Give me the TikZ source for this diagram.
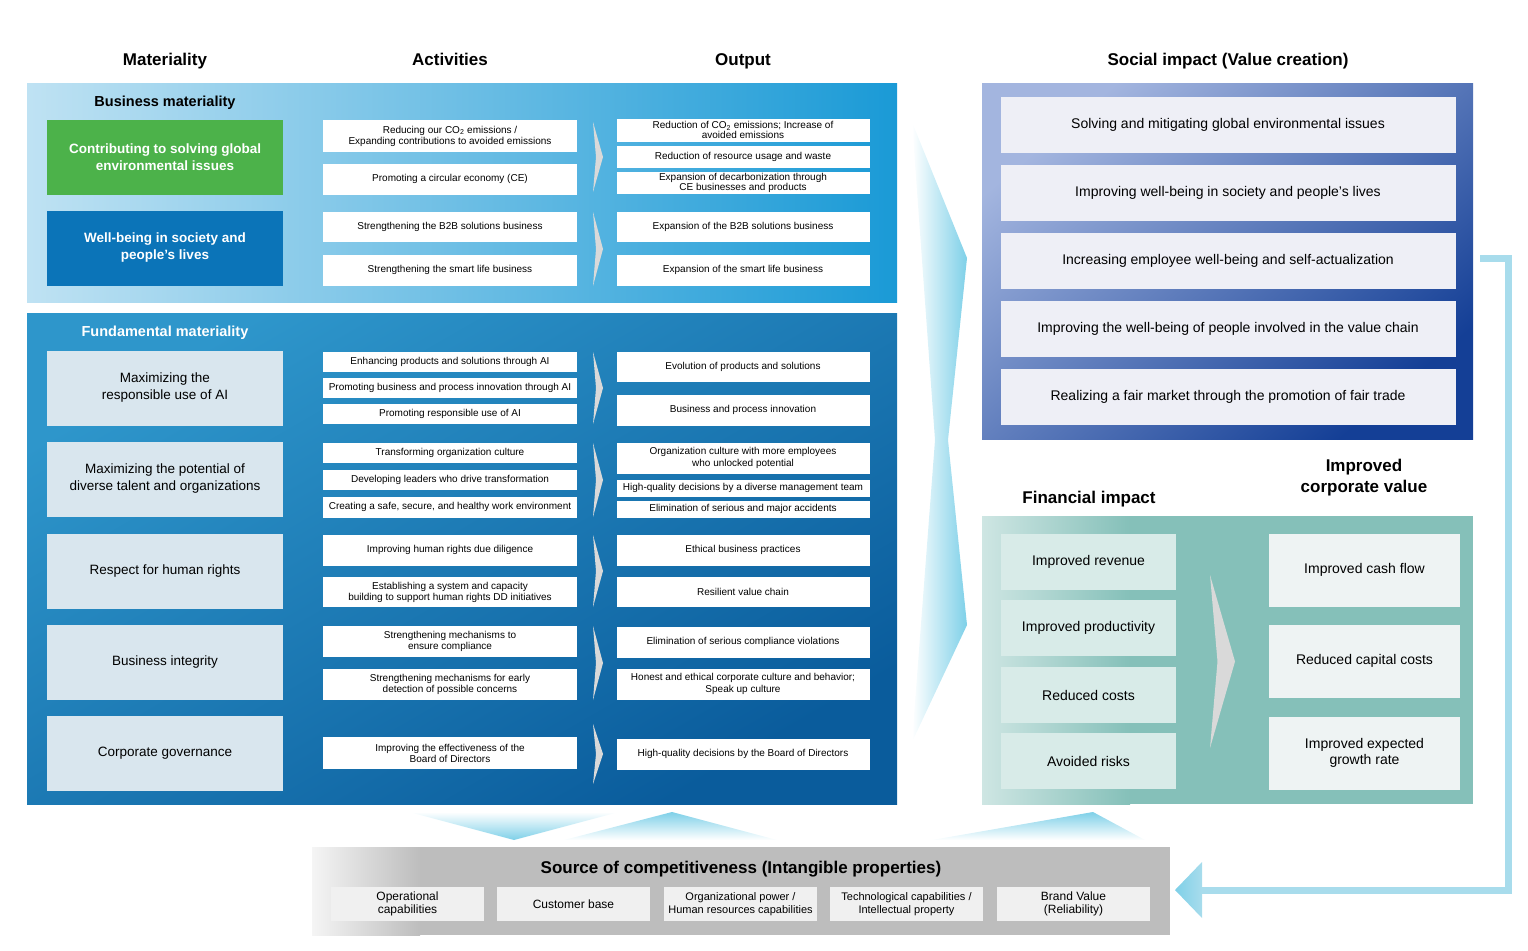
\documentclass[tikz,border=0pt]{standalone}
\usepackage{fontspec}
\setmainfont{Liberation Sans}
\usetikzlibrary{positioning}
\definecolor{bizL}{HTML}{BFE2F3}
\definecolor{bizR}{HTML}{1A9AD6}
\definecolor{funL}{HTML}{2E96CB}
\definecolor{funR}{HTML}{0A5C9C}
\definecolor{socL}{HTML}{A3B5DF}
\definecolor{socR}{HTML}{143F96}
\definecolor{finC}{HTML}{85C0B9}
\definecolor{finBox}{HTML}{D8EBE8}
\definecolor{cvBox}{HTML}{EEF3F3}
\definecolor{matGreen}{HTML}{4CB24A}
\definecolor{matBlue}{HTML}{0B74B8}
\definecolor{fundBox}{HTML}{D9E6EE}
\definecolor{socBox}{HTML}{EEEFF6}
\definecolor{loopC}{HTML}{A8DCEC}
\definecolor{fanC}{HTML}{7ED0E8}
\definecolor{srcC}{HTML}{BDBDBD}
\tikzset{every picture/.style={line width=0.75pt}}
\tikzset{
  head/.style={font=\fontsize{17}{19}\selectfont\bfseries, align=center, text height=12, text depth=4},
  subhead/.style={font=\fontsize{14.5}{16}\selectfont\bfseries},
  matbox/.style={minimum width=236, minimum height=75, inner sep=0pt, align=center, font=\fontsize{13.5}{17}\selectfont},
  actbox/.style={fill=white, minimum width=254, inner sep=0pt, align=center, font=\fontsize{10}{11}\selectfont},
  outbox/.style={fill=white, minimum width=253, inner sep=0pt, align=center, font=\fontsize{10}{10}\selectfont},
  socbox/.style={fill=socBox, minimum width=455, minimum height=56, inner sep=0pt, font=\fontsize{14}{16}\selectfont},
  finbox/.style={fill=finBox, minimum width=175, minimum height=56, inner sep=0pt, font=\fontsize{14}{16}\selectfont},
  cvbox/.style={fill=cvBox, minimum width=191, minimum height=73, inner sep=0pt, align=center, font=\fontsize{14}{16}\selectfont},
  srcbox/.style={fill=black!6, minimum width=153, minimum height=34, inner sep=0pt, align=center, font=\fontsize{12}{13}\selectfont},
  chev/.style={fill=black!15, draw=none},
}
\newcommand{\chevron}[4]{\fill[chev] (#1,#2) -- (#1+#3,#2/2+#4/2) -- (#1,#4) -- (#1+0.3*#3,#2/2+#4/2) -- cycle;}
\begin{document}
\begin{tikzpicture}[x=1pt,y=-1pt]
\useasboundingbox (0,0) rectangle (1528,950);

% column headings
\node[head] (hMat) at (165,62) {Materiality};
\node[head] (hAct) at (450,62) {Activities};
\node[head] (hOut) at (743,62) {Output};
\node[head] (hSoc) at (1228,62) {Social impact (Value creation)};

% panels
\shade[left color=bizL, right color=bizR] (27,83) rectangle (897,302);
\shade[top color=funL, bottom color=funR, shading angle=30] (27,313) rectangle (897,804);
\shade[top color=socL, bottom color=socR, shading angle=40] (982,83) rectangle (1473,439);
\shade[left color=white!60!finC, right color=finC] (982,516) rectangle (1130,804);
\fill[finC] (1130,516) rectangle (1473,804);
\shade[left color=black!4, right color=srcC] (312,847) rectangle (420,935);
\fill[srcC] (420,847) rectangle (1170,935);

\node[subhead] (hBiz) at (165,103) {Business materiality};
\node[subhead, text=white] (hFun) at (165,333) {Fundamental materiality};

% materiality
\node[matbox, fill=matGreen, text=white, font=\fontsize{13.5}{17}\selectfont\bfseries] (m1) at (165,157) {Contributing to solving global\\environmental issues};
\node[matbox, fill=matBlue, text=white, font=\fontsize{13.5}{17}\selectfont\bfseries] (m2) at (165,248) {Well-being in society and\\people's lives};
\node[matbox, fill=fundBox] (m3) at (165,388) {Maximizing the\\responsible use of AI};
\node[matbox, fill=fundBox] (m4) at (165,479) {Maximizing the potential of\\diverse talent and organizations};
\node[matbox, fill=fundBox] (m5) at (165,571) {Respect for human rights};
\node[matbox, fill=fundBox] (m6) at (165,662) {Business integrity};
\node[matbox, fill=fundBox] (m7) at (165,753) {Corporate governance};

% activities
\node[actbox, minimum height=32] (a1) at (450,136) {Reducing our CO\textsubscript{2} emissions /\\Expanding contributions to avoided emissions};
\node[actbox, minimum height=31] (a2) at (450,179) {Promoting a circular economy (CE)};
\node[actbox, minimum height=30] (a3) at (450,227) {Strengthening the B2B solutions business};
\node[actbox, minimum height=31] (a4) at (450,270) {Strengthening the smart life business};
\node[actbox, minimum height=20] (a5) at (450,362) {Enhancing products and solutions through AI};
\node[actbox, minimum height=20] (a6) at (450,388) {Promoting business and process innovation through AI};
\node[actbox, minimum height=20] (a7) at (450,414) {Promoting responsible use of AI};
\node[actbox, minimum height=20] (a8) at (450,453) {Transforming organization culture};
\node[actbox, minimum height=20] (a9) at (450,480) {Developing leaders who drive transformation};
\node[actbox, minimum height=21] (a10) at (450,507) {Creating a safe, secure, and healthy work environment};
\node[actbox, minimum height=31] (a11) at (450,550) {Improving human rights due diligence};
\node[actbox, minimum height=30] (a12) at (450,592) {Establishing a system and capacity\\building to support human rights DD initiatives};
\node[actbox, minimum height=31] (a13) at (450,641) {Strengthening mechanisms to\\ensure compliance};
\node[actbox, minimum height=31] (a14) at (450,684) {Strengthening mechanisms for early\\detection of possible concerns};
\node[actbox, minimum height=32] (a15) at (450,753) {Improving the effectiveness of the\\Board of Directors};

% output
\node[outbox, minimum height=23] (o1) at (743,130) {Reduction of CO\textsubscript{2} emissions; Increase of\\avoided emissions};
\node[outbox, minimum height=22] (o2) at (743,157) {Reduction of resource usage and waste};
\node[outbox, minimum height=22] (o3) at (743,183) {Expansion of decarbonization through\\CE businesses and products};
\node[outbox, minimum height=30] (o4) at (743,227) {Expansion of the B2B solutions business};
\node[outbox, minimum height=31] (o5) at (743,270) {Expansion of the smart life business};
\node[outbox, minimum height=30] (o6) at (743,367) {Evolution of products and solutions};
\node[outbox, minimum height=31] (o7) at (743,410) {Business and process innovation};
\node[outbox, minimum height=31, font=\fontsize{10}{12.5}\selectfont] (o8) at (743,458) {Organization culture with more employees\\who unlocked potential};
\node[outbox, minimum height=17] (o9) at (743,488) {High-quality decisions by a diverse management team};
\node[outbox, minimum height=17] (o10) at (743,509) {Elimination of serious and major accidents};
\node[outbox, minimum height=31] (o11) at (743,550) {Ethical business practices};
\node[outbox, minimum height=30] (o12) at (743,592) {Resilient value chain};
\node[outbox, minimum height=31] (o13) at (743,642) {Elimination of serious compliance violations};
\node[outbox, minimum height=31, font=\fontsize{10}{12.5}\selectfont] (o14) at (743,684) {Honest and ethical corporate culture and behavior;\\Speak up culture};
\node[outbox, minimum height=31] (o15) at (743,754) {High-quality decisions by the Board of Directors};

% chevrons activities -> output
\chevron{593}{122}{10}{192}
\chevron{593}{212}{10}{286}
\chevron{593}{352}{10}{424}
\chevron{593}{443}{10}{517}
\chevron{593}{535}{10}{607}
\chevron{593}{626}{10}{700}
\chevron{593}{724}{10}{784}

% big fan to social impact
\shade[left color=white, right color=fanC, draw=none] (912,122) -- (967,258) -- (948,440) -- (967,625) -- (912,742) -- (935,440) -- cycle;

% social impact
\node[socbox] (s1) at (1228,125) {Solving and mitigating global environmental issues};
\node[socbox] (s2) at (1228,193) {Improving well-being in society and people's lives};
\node[socbox] (s3) at (1228,261) {Increasing employee well-being and self-actualization};
\node[socbox] (s4) at (1228,329) {Improving the well-being of people involved in the value chain};
\node[socbox] (s5) at (1228,397) {Realizing a fair market through the promotion of fair trade};

% financial impact
\node[head] (hFin) at (1089,499) {Financial impact};
\node[head, font=\fontsize{17}{21}\selectfont\bfseries] (hCv) at (1364,488) {Improved\\corporate value};
\node[finbox] (f1) at (1088.5,562) {Improved revenue};
\node[finbox] (f2) at (1088.5,628) {Improved productivity};
\node[finbox] (f3) at (1088.5,695) {Reduced costs};
\node[finbox] (f4) at (1088.5,761) {Avoided risks};
\chevron{1210}{575}{25}{748}
\node[cvbox] (c1) at (1364.5,570) {Improved cash flow};
\node[cvbox] (c2) at (1364.5,661) {Reduced capital costs};
\node[cvbox] (c3) at (1364.5,753) {Improved expected\\growth rate};

% fans to source of competitiveness
\shade[top color=white, bottom color=fanC, draw=none] (409,812) -- (619,812) -- (514,840) -- cycle;
\shade[top color=fanC, bottom color=white, draw=none] (564,840) -- (672,812) -- (777,840) -- cycle;
\shade[top color=fanC, bottom color=white, draw=none] (932,840) -- (1093,812) -- (1145,840) -- cycle;

% source of competitiveness
\node[font=\fontsize{17}{19}\selectfont\bfseries] (hSrc) at (741,869) {Source of competitiveness (Intangible properties)};
\node[srcbox] (b1) at (407.5,904) {Operational\\capabilities};
\node[srcbox] (b2) at (573.5,904) {Customer base};
\node[srcbox, font=\fontsize{11}{12.5}\selectfont] (b3) at (740.5,904) {Organizational power /\\Human resources capabilities};
\node[srcbox, font=\fontsize{11}{12.5}\selectfont] (b4) at (906.5,904) {Technological capabilities /\\Intellectual property};
\node[srcbox] (b5) at (1073.5,904) {Brand Value\\(Reliability)};

% feedback loop
\coordinate (lp1) at (1480,258);
\coordinate (lp2) at (1508,258);
\coordinate (lp3) at (1508,890);
\coordinate (lp4) at (1200,890);
\draw[loopC, line width=7] (lp1) -- (lp2) -- (lp3) -- (lp4);
\shade[left color=fanC, right color=loopC, draw=none] (1175,890) -- (1202,862) -- (1202,918) -- cycle;
\end{tikzpicture}
\end{document}
